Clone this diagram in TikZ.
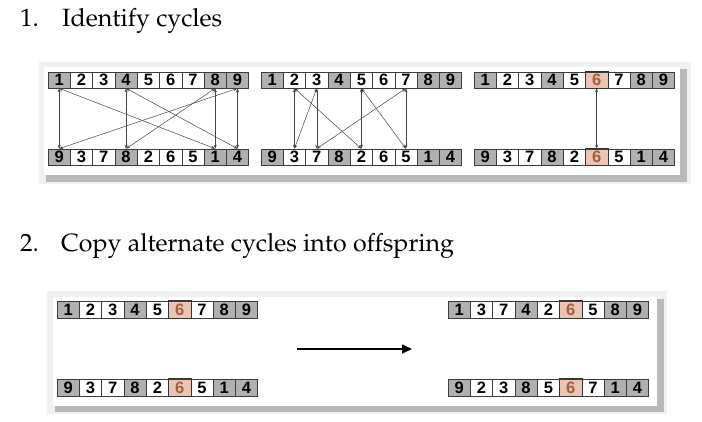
\documentclass[tikz,border=0pt]{standalone}
\usepackage{fontspec}
\newfontfamily\cellfont{Liberation Sans}
\usetikzlibrary{arrows.meta}
\definecolor{G}{RGB}{176,176,176}
\definecolor{W}{RGB}{255,255,255}
\definecolor{P}{RGB}{236,196,180}
\definecolor{tG}{RGB}{0,0,0}
\definecolor{tW}{RGB}{0,0,0}
\definecolor{tP}{RGB}{165,95,60}
\definecolor{cellline}{RGB}{60,60,60}
\definecolor{connline}{RGB}{70,70,70}
\newcommand\headfont{\fontencoding{OT1}\fontfamily{ppl}\fontseries{m}\fontshape{n}\fontsize{25}{28}\selectfont}
\newcommand\digitfont{\cellfont\bfseries\fontsize{16.5}{16.5}\selectfont}
\tikzset{
  cell/.style={draw=cellline, line width=0.6pt, minimum width=22.3pt, inner sep=0pt,
    text height=11.8pt, text depth=0pt, font=\digitfont},
  pinkframe/.style={draw=black!80, line width=1pt},
  conn/.style={draw=connline, line width=0.5pt, {Stealth[length=4pt,width=3pt]}-{Stealth[length=4pt,width=3pt]}},
  bigarrow/.style={draw=black, line width=1.6pt, -{Triangle[length=10pt,width=9pt]}},
  head/.style={anchor=base west, inner sep=0pt, font=\headfont},
}
\newcommand\drawrow[5]{%
  \foreach [count=\i] \d/\f in {#5} {
    \node[cell, minimum height=#4pt, fill=\f, text=t\f] (#1-\i) at ({#2+(\i-0.5)*22.3},#3) {\d};
  }%
}
\begin{document}
\begin{tikzpicture}[x=1pt,y=-1pt]
\useasboundingbox (0,0) rectangle (702,422);
% headings
\node[head] (h1n) at (20,27) {1.};
\node[head] (h1t) at (62,27) {Identify cycles};
\node[head] (h2n) at (20,252) {2.};
\node[head] (h2t) at (61,252) {Copy alternate cycles into offspring};
% top panel frame
\fill[gray!12] (39,62) rectangle (691,184);
\fill[gray!55] (46,69) rectangle (687,182);
\fill[white] (44,67) rectangle (680,175);
% bottom panel frame
\fill[gray!12] (47,291) rectangle (667,414);
\fill[gray!55] (55,299) rectangle (664,412);
\fill[white] (53,297) rectangle (657,406);
% panel 1
\drawrow{pa}{48}{80}{16}{1/G,2/W,3/W,4/G,5/W,6/W,7/W,8/G,9/G}
\drawrow{qa}{48}{157}{16}{9/G,3/W,7/W,8/G,2/W,6/W,5/W,1/G,4/G}
% panel 2
\drawrow{pb}{261}{80}{16}{1/G,2/W,3/W,4/G,5/W,6/W,7/W,8/G,9/G}
\drawrow{qb}{261}{157}{16}{9/G,3/W,7/W,8/G,2/W,6/W,5/W,1/G,4/G}
% panel 3
\drawrow{pc}{474}{80}{16}{1/G,2/W,3/W,4/G,5/W,6/P,7/W,8/G,9/G}
\drawrow{qc}{474}{157}{16}{9/G,3/W,7/W,8/G,2/W,6/P,5/W,1/G,4/G}
\draw[pinkframe] (pc-6.north west) rectangle (pc-6.south east);
\draw[pinkframe] (qc-6.north west) rectangle (qc-6.south east);
% bottom panel rows
\drawrow{pd}{57}{309.5}{17}{1/G,2/W,3/W,4/G,5/W,6/P,7/W,8/G,9/G}
\drawrow{qd}{57}{387.5}{17}{9/G,3/W,7/W,8/G,2/W,6/P,5/W,1/G,4/G}
\drawrow{pe}{448}{309.5}{17}{1/G,3/W,7/W,4/G,2/W,6/P,5/W,8/G,9/G}
\drawrow{qe}{448}{387.5}{17}{9/G,2/W,3/W,8/G,5/W,6/P,7/W,1/G,4/G}
\foreach \n in {pd,qd,pe,qe} {\draw[pinkframe] (\n-6.north west) rectangle (\n-6.south east);}
% connectors panel 1
\draw[conn] (pa-1.south) -- (qa-1.north);
\draw[conn] (qa-1.north) -- (pa-9.south);
\draw[conn] (pa-9.south) -- (qa-9.north);
\draw[conn] (qa-9.north) -- (pa-4.south);
\draw[conn] (pa-4.south) -- (qa-4.north);
\draw[conn] (qa-4.north) -- (pa-8.south);
\draw[conn] (pa-8.south) -- (qa-8.north);
\draw[conn] (qa-8.north) -- (pa-1.south);
% connectors panel 2
\draw[conn] (pb-2.south) -- (qb-2.north);
\draw[conn] (qb-2.north) -- (pb-3.south);
\draw[conn] (pb-3.south) -- (qb-3.north);
\draw[conn] (qb-3.north) -- (pb-7.south);
\draw[conn] (pb-7.south) -- (qb-7.north);
\draw[conn] (qb-7.north) -- (pb-5.south);
\draw[conn] (pb-5.south) -- (qb-5.north);
\draw[conn] (qb-5.north) -- (pb-2.south);
% connector panel 3
\draw[conn] (pc-6.south) -- (qc-6.north);
% big arrow
\coordinate (as) at (297,349);
\coordinate (ae) at (412,349);
\draw[bigarrow] (as) -- (ae);
\end{tikzpicture}
\end{document}
